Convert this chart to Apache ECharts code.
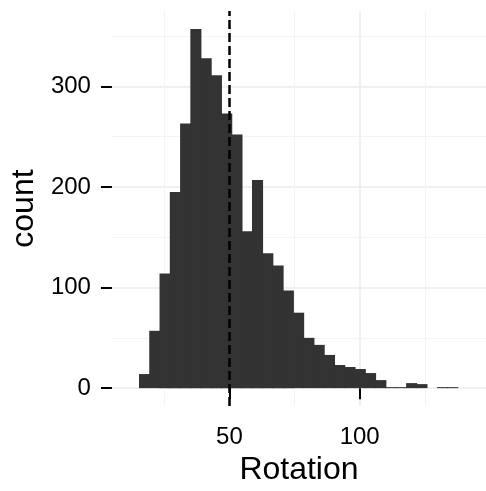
<!DOCTYPE html>
<html>
<head>
<meta charset="utf-8">
<script src="https://cdn.jsdelivr.net/npm/echarts@6/dist/echarts.min.js"></script>
<style>
html,body{margin:0;padding:0;background:#fff;}
#chart{width:486px;height:491px;}
</style>
</head>
<body>
<div id="chart"></div>
<script>
// Histogram bin edges (Rotation) and counts
const binEdges = [15.45, 19.39, 23.34, 27.28, 31.23, 35.17, 39.11, 43.06, 47.00, 50.95,
  54.89, 58.83, 62.78, 66.72, 70.67, 74.61, 78.55, 82.50, 86.44, 90.39,
  94.33, 98.27, 102.22, 106.16, 110.11, 114.05, 117.99, 121.94, 125.88, 129.83,
  133.77, 137.71];
const counts = [14, 57, 114, 195, 263, 357, 328, 311, 273, 252,
  156, 207, 134, 122, 97, 75, 50, 43, 33, 23,
  21, 19, 15, 8, 1, 1, 5, 4, 0, 1, 1];
const xTicks = [50, 100];
const yTicks = [0, 100, 200, 300];
const xMinorGrid = [25, 75, 125];
const yMinorGrid = [50, 150, 250, 350];
const meanLine = 50;

const histData = counts.map((c, i) => [binEdges[i], binEdges[i + 1], c]);

const FONT = 'Liberation Sans, Arial, Helvetica, sans-serif';
const majorStyle = {color: '#ebebeb', width: 1.5, type: 'solid'};
const minorStyle = {color: '#f4f4f4', width: 1, type: 'solid'};

const gridLines = [];
xTicks.forEach(v => gridLines.push({xAxis: v, lineStyle: majorStyle}));
yTicks.forEach(v => gridLines.push({yAxis: v, lineStyle: majorStyle}));
xMinorGrid.forEach(v => gridLines.push({xAxis: v, lineStyle: minorStyle}));
yMinorGrid.forEach(v => gridLines.push({yAxis: v, lineStyle: minorStyle}));

const chart = echarts.init(document.getElementById('chart'), null, {renderer: 'canvas'});
chart.setOption({
  animation: false,
  backgroundColor: '#ffffff',
  grid: {left: 108, right: 0, top: 11, bottom: 80.5, containLabel: false},
  xAxis: {
    type: 'value',
    min: 4.92,
    max: 148.5,
    name: 'Rotation',
    nameLocation: 'middle',
    nameGap: 44,
    nameTextStyle: {fontFamily: FONT, fontSize: 32, color: '#000'},
    axisLine: {show: false},
    axisTick: {show: true, customValues: xTicks, length: 11, lineStyle: {color: '#000', width: 2}},
    axisLabel: {show: true, customValues: xTicks, margin: 19, fontFamily: FONT, fontSize: 24, color: '#000'},
    splitLine: {show: false},
    minorSplitLine: {show: false}
  },
  yAxis: {
    type: 'value',
    min: -17.85,
    max: 374.85,
    name: 'count',
    nameLocation: 'middle',
    nameGap: 63,
    nameTextStyle: {fontFamily: FONT, fontSize: 32, color: '#000'},
    axisLine: {show: false},
    axisTick: {show: true, customValues: yTicks, length: 11, lineStyle: {color: '#000', width: 2}},
    axisLabel: {show: true, customValues: yTicks, margin: 21, fontFamily: FONT, fontSize: 24, color: '#000'},
    splitLine: {show: false},
    minorSplitLine: {show: false}
  },
  series: [
    {
      type: 'line',
      data: [],
      z: 0,
      silent: true,
      markLine: {
        z: 0,
        silent: true,
        symbol: 'none',
        label: {show: false},
        animation: false,
        data: gridLines
      }
    },
    {
      type: 'custom',
      z: 2,
      data: histData,
      encode: {x: [0, 1], y: 2},
      renderItem: function (params, api) {
        const x0 = api.value(0), x1 = api.value(1), c = api.value(2);
        if (!c) return null;
        const pTop = api.coord([x0, c]);
        const pBot = api.coord([x1, 0]);
        return {
          type: 'rect',
          z2: 1,
          shape: {x: pTop[0] - 0.4, y: pTop[1], width: pBot[0] - pTop[0] + 0.8, height: pBot[1] - pTop[1]},
          style: {fill: '#333333'}
        };
      }
    },
    {
      type: 'line',
      data: [],
      z: 10,
      silent: true,
      markLine: {
        z: 10,
        silent: true,
        symbol: 'none',
        label: {show: false},
        animation: false,
        data: [{xAxis: meanLine}],
        lineStyle: {color: '#000', width: 2.5, type: [9, 4]}
      }
    }
  ]
});
</script>
</body>
</html>
